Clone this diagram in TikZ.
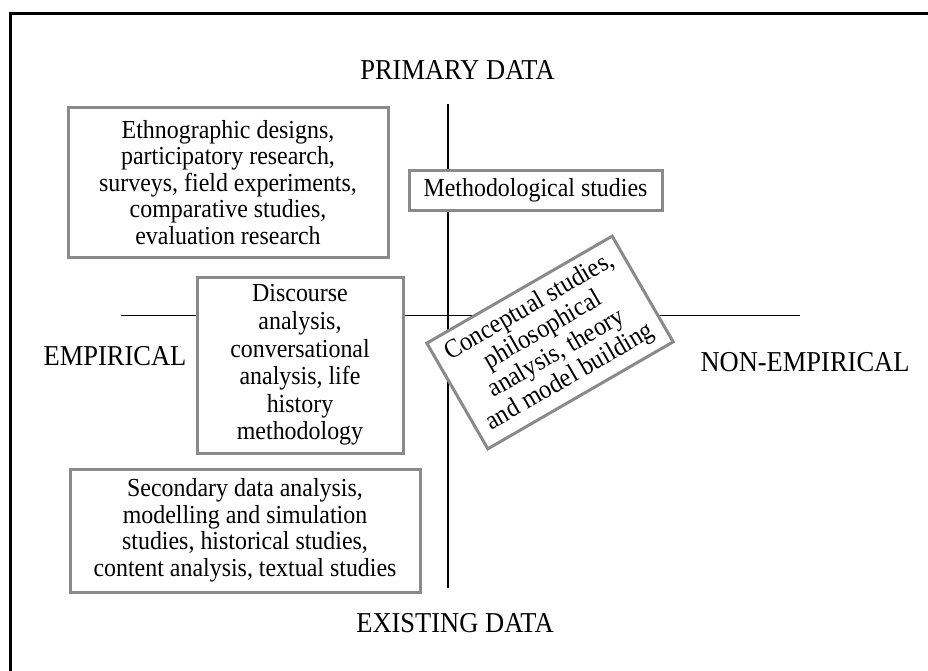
\documentclass[tikz,border=0pt]{standalone}
\usepackage{fontspec}
% slightly condensed, taller serif face
\setmainfont{Liberation Serif}[FakeStretch=0.92]
\definecolor{boxgray}{RGB}{138,138,138}
\begin{document}
\begin{tikzpicture}[x=1pt,y=-1pt,
  cell/.style={draw=boxgray, line width=3pt, fill=white, align=center,
    inner sep=0pt, font=\fontsize{26}{26.5}\selectfont},
  axislabel/.style={font=\fontsize{28.8}{32}\selectfont, inner sep=0pt, anchor=base},
  axisline/.style={line width=1.4pt, black},
  frameline/.style={line width=3.3pt, black}]
\useasboundingbox (0,0) rectangle (928,671);

% frame (top and left edges)
\coordinate (fbl) at (10.7,671);
\coordinate (ftl) at (10.7,13.3);
\coordinate (ftr) at (928,13.3);
\draw[frameline] (fbl) -- (ftl) -- (ftr);

% axes
\coordinate (ytop) at (448,104);
\coordinate (ybot) at (448,588);
\coordinate (xleft) at (121,315.5);
\coordinate (xright) at (800,315.5);
\draw[axisline] (ytop) -- (ybot);
\draw[axisline] (xleft) -- (xright);

% axis labels
\node[axislabel] (primary) at (457.5,80) {PRIMARY DATA};
\node[axislabel] (existing) at (455,632) {EXISTING DATA};
\node[axislabel] (empirical) at (115,365) {EMPIRICAL};
\node[axislabel] (nonempirical) at (805,371) {NON-EMPIRICAL};

% boxes
\node[cell, minimum width=320pt, minimum height=149pt] (ethno) at (228,182.5)
  {Ethnographic designs,\\participatory research,\\surveys, field experiments,\\comparative studies,\\evaluation research};
\node[cell, minimum width=253pt, minimum height=39pt] (method) at (535.5,190.5)
  {Methodological studies};
\node[cell, minimum width=206pt, minimum height=176pt,
      font=\fontsize{26}{27.6}\selectfont] (discourse) at (300,365)
  {Discourse\\analysis,\\conversational\\analysis, life\\history\\methodology};
\node[cell, minimum width=350pt, minimum height=123pt] (secondary) at (245,530.5)
  {Secondary data analysis,\\modelling and simulation\\studies, historical studies,\\content analysis, textual studies};
\node[cell, minimum width=214pt, minimum height=122pt, rotate=30,
      font=\fontsize{26.5}{27}\selectfont] (concept) at (550,342.5)
  {Conceptual studies,\\philosophical\\analysis, theory\\and model building};
\end{tikzpicture}
\end{document}
